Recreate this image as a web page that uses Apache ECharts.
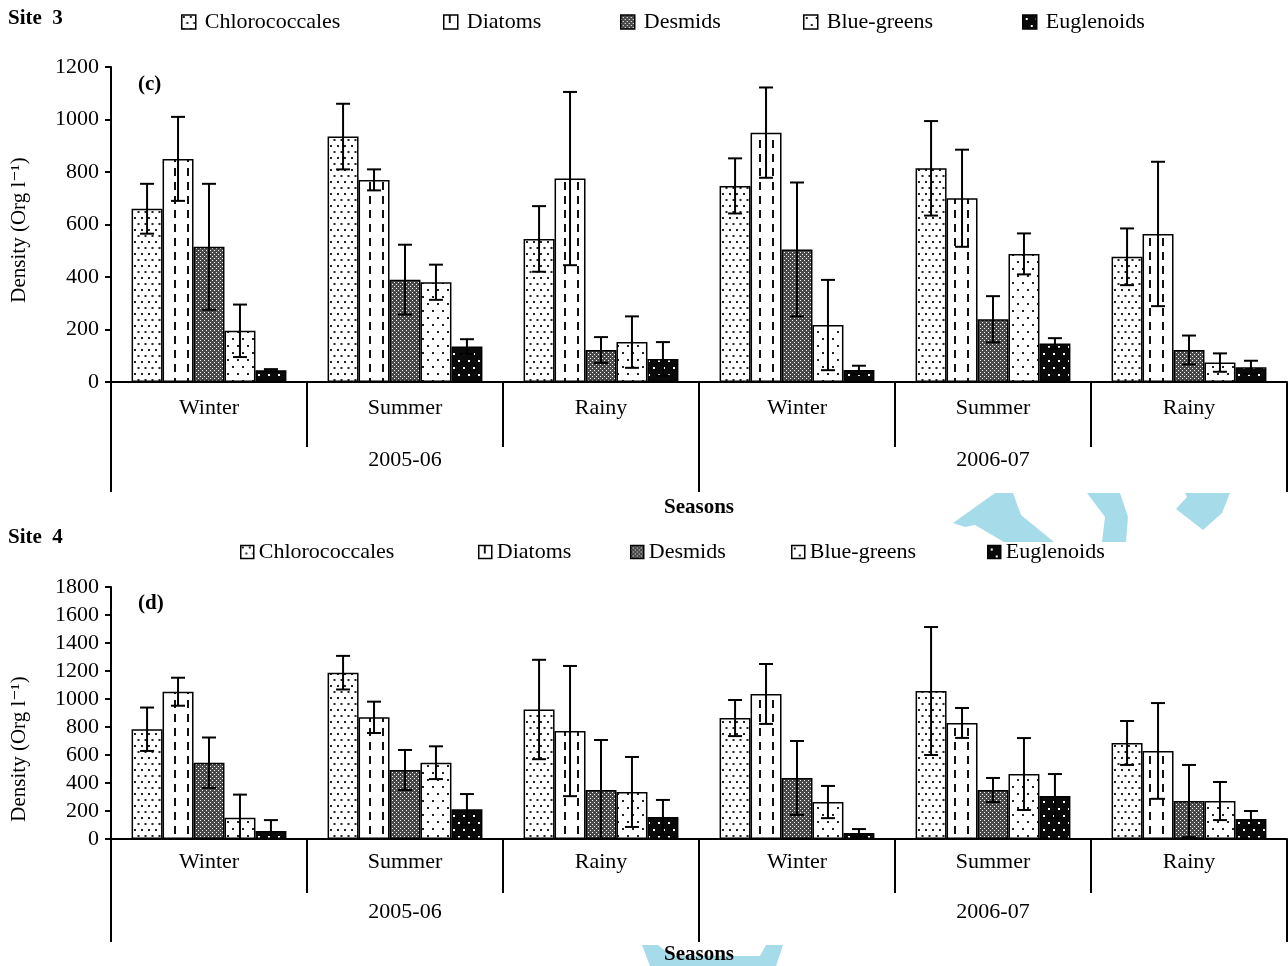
<!DOCTYPE html>
<html>
<head>
<meta charset="utf-8">
<title>Site 3 / Site 4 phytoplankton density</title>
<script src="https://cdn.jsdelivr.net/npm/echarts@6/dist/echarts.min.js"></script>
<style>
  html, body { margin: 0; padding: 0; background: #fff; }
  #chart { width: 1288px; height: 966px; }
</style>
</head>
<body>
<div id="chart"></div>
<script>
// categories
const seasons = ['Winter', 'Summer', 'Rainy', 'Winter', 'Summer', 'Rainy'];
const years = ['2005-06', '2006-07'];
const groups = ['Chlorococcales', 'Diatoms', 'Desmids', 'Blue-greens', 'Euglenoids'];
const site3Ticks = [0, 200, 400, 600, 800, 1000, 1200];
const site4Ticks = [0, 200, 400, 600, 800, 1000, 1200, 1400, 1600, 1800];

// Site 3 means and errors (per group, across the six seasons)
const s3Chloro = [660, 935, 545, 747, 814, 477];
const s3Diatoms = [850, 770, 775, 950, 700, 564];
const s3Desmids = [515, 390, 122, 505, 239, 122];
const s3Blue = [195, 380, 152, 217, 488, 74];
const s3Eugl = [45, 135, 88, 46, 147, 56];
const s3ChloroErr = [95, 125, 125, 105, 180, 108];
const s3DiatomsErr = [160, 40, 330, 172, 185, 275];
const s3DesmidsErr = [240, 133, 49, 255, 88, 55];
const s3BlueErr = [100, 67, 98, 172, 78, 35];
const s3EuglErr = [4, 28, 64, 16, 20, 25];

// Site 4
const s4Chloro = [784, 1188, 925, 864, 1057, 686];
const s4Diatoms = [1052, 869, 771, 1036, 829, 629];
const s4Desmids = [545, 493, 350, 436, 350, 271];
const s4Blue = [152, 545, 336, 264, 464, 271];
const s4Eugl = [57, 212, 157, 43, 307, 143];
const s4ChloroErr = [155, 120, 355, 129, 457, 157];
const s4DiatomsErr = [100, 112, 465, 214, 107, 342];
const s4DesmidsErr = [180, 143, 357, 264, 86, 258];
const s4BlueErr = [165, 117, 250, 115, 257, 136];
const s4EuglErr = [78, 109, 122, 28, 157, 57];

const site3 = [s3Chloro, s3Diatoms, s3Desmids, s3Blue, s3Eugl];
const site3Err = [s3ChloroErr, s3DiatomsErr, s3DesmidsErr, s3BlueErr, s3EuglErr];
const site4 = [s4Chloro, s4Diatoms, s4Desmids, s4Blue, s4Eugl];
const site4Err = [s4ChloroErr, s4DiatomsErr, s4DesmidsErr, s4BlueErr, s4EuglErr];

const FONT = '"Liberation Serif", "DejaVu Serif", serif';
const FS = 22;
const CAT_GAP = 0.21;

// fill patterns
function pattern(w, h, bg, draw) {
    const c = document.createElement('canvas');
    c.width = w; c.height = h;
    const ctx = c.getContext('2d');
    ctx.fillStyle = bg;
    ctx.fillRect(0, 0, w, h);
    draw(ctx);
    return { image: c, repeat: 'repeat' };
}
const fills = [
    pattern(7, 12, '#fff', ctx => { ctx.fillStyle = '#222'; ctx.fillRect(1, 1, 2, 2); ctx.fillRect(4.5, 7, 2, 2); }),
    pattern(13, 14, '#fff', ctx => { ctx.fillStyle = '#111'; ctx.fillRect(5, 0, 2, 8); }),
    pattern(8, 8, '#4a4a4a', ctx => {
        ctx.fillStyle = '#fff';
        for (let x = 0; x < 8; x += 2) for (let y = 0; y < 8; y += 2) if ((x + y) % 4 === 0) ctx.fillRect(x, y, 1, 1);
    }),
    pattern(10, 14, '#fff', ctx => { ctx.fillStyle = '#222'; ctx.fillRect(2, 2, 2, 2); ctx.fillRect(7, 9, 2, 2); }),
    pattern(10, 14, '#0a0a0a', ctx => { ctx.fillStyle = '#fff'; ctx.fillRect(3, 3, 2, 2); ctx.fillRect(8, 10, 2, 2); })
];

function errRender(params, api) {
    const ci = api.value(0), gi = api.value(1), m = api.value(2), e = api.value(3);
    const band = api.size([1, 0])[0];
    const bw = band * (1 - CAT_GAP) / groups.length;
    const x = api.coord([ci, m])[0] + (gi - (groups.length - 1) / 2) * bw;
    const yt = api.coord([ci, m + e])[1];
    const yb = api.coord([ci, Math.max(m - e, 0)])[1];
    const cap = 7;
    const st = { stroke: '#000', lineWidth: 2 };
    return {
        type: 'group',
        children: [
            { type: 'line', shape: { x1: x, y1: yt, x2: x, y2: yb }, style: st },
            { type: 'line', shape: { x1: x - cap, y1: yt, x2: x + cap, y2: yt }, style: st },
            { type: 'line', shape: { x1: x - cap, y1: yb, x2: x + cap, y2: yb }, style: st }
        ]
    };
}

function errData(means, errs) {
    const out = [];
    means.forEach((arr, gi) => arr.forEach((v, ci) => out.push([ci, gi, v, errs[gi][ci]])));
    return out;
}

const grids = [
    { left: 111, right: 1, top: 67, height: 315 },
    { left: 111, right: 1, top: 587, height: 252 }
];
const layout = [
    { tick: 65, longTick: 110, seasonMargin: 15, yearMargin: 67, nameGap: 115, ticks: site3Ticks, means: site3, errs: site3Err },
    { tick: 54, longTick: 103, seasonMargin: 12, yearMargin: 62, nameGap: 105, ticks: site4Ticks, means: site4, errs: site4Err }
];

const xAxis = [], yAxis = [], series = [];
layout.forEach((L, g) => {
    xAxis.push({
        type: 'category', gridIndex: g, data: seasons, position: 'bottom', z: 5,
        axisLine: { lineStyle: { color: '#000', width: 2 } },
        axisTick: { show: true, interval: 0, length: L.tick, lineStyle: { color: '#000', width: 2 } },
        axisLabel: { interval: 0, margin: L.seasonMargin, color: '#000', fontFamily: FONT, fontSize: FS }
    });
    xAxis.push({
        type: 'category', gridIndex: g, data: years, position: 'bottom', offset: 0, z: 5,
        axisLine: { show: false },
        axisTick: { show: true, interval: 0, length: L.longTick, lineStyle: { color: '#000', width: 2 } },
        axisLabel: { interval: 0, margin: L.yearMargin, color: '#000', fontFamily: FONT, fontSize: FS },
        name: 'Seasons', nameLocation: 'middle', nameGap: L.nameGap,
        nameTextStyle: { color: '#000', fontFamily: FONT, fontSize: 21, fontWeight: 'bold' }
    });
    const max = L.ticks[L.ticks.length - 1];
    yAxis.push({
        type: 'value', gridIndex: g, min: L.ticks[0], max: max, interval: L.ticks[1] - L.ticks[0], z: 5,
        splitLine: { show: false },
        axisLine: { show: true, lineStyle: { color: '#000', width: 2 } },
        axisTick: { show: true, length: 6, lineStyle: { color: '#000', width: 2 } },
        axisLabel: { margin: 12, color: '#000', fontFamily: FONT, fontSize: FS, formatter: v => String(v) }
    });
    groups.forEach((name, gi) => {
        series.push({
            name: name, type: 'bar', xAxisIndex: g * 2, yAxisIndex: g,
            data: L.means[gi], barGap: '0%', barCategoryGap: (CAT_GAP * 100) + '%',
            itemStyle: { color: fills[gi], borderColor: '#000', borderWidth: 1.5 },
            emphasis: { disabled: true }
        });
    });
    series.push({
        type: 'custom', xAxisIndex: g * 2, yAxisIndex: g, z: 10,
        renderItem: errRender, data: errData(L.means, L.errs),
        encode: { x: 0, y: 2 }, silent: true
    });
});

// legends, one per entry to keep the original spacing
const legendPos = [
    { top: 11, size: 14, textPad: 4, lefts: [181, 443, 620, 803, 1022] },
    { top: 541, size: 13, textPad: 0, lefts: [240, 478, 630, 791, 987] }
];
const legend = [];
legendPos.forEach(P => groups.forEach((name, gi) => legend.push({
    data: [name], left: P.lefts[gi], top: P.top, icon: 'rect', padding: 0,
    itemWidth: P.size, itemHeight: P.size, itemGap: 0, selectedMode: false,
    itemStyle: { borderColor: '#000', borderWidth: 1.5 },
    textStyle: { color: '#000', fontFamily: FONT, fontSize: FS, padding: [0, 0, 0, P.textPad] }
})));

const titleStyle = { color: '#000', fontFamily: FONT, fontSize: 21, fontWeight: 'bold' };
const title = [
    { text: 'Site  3', left: 3, top: 3, textStyle: titleStyle },
    { text: '(c)', left: 133, top: 69, textStyle: titleStyle },
    { text: 'Site  4', left: 3, top: 522, textStyle: titleStyle },
    { text: '(d)', left: 133, top: 588, textStyle: titleStyle }
];

const cyan = '#a6dcea';
const graphic = [
    { type: 'text', x: 19, y: 230, rotation: Math.PI / 2, z: 5,
      style: { text: 'Density (Org l\u207B\u00B9)', fill: '#000', font: '21px ' + FONT, textAlign: 'center', textVerticalAlign: 'middle' } },
    { type: 'text', x: 19, y: 749, rotation: Math.PI / 2, z: 5,
      style: { text: 'Density (Org l\u207B\u00B9)', fill: '#000', font: '21px ' + FONT, textAlign: 'center', textVerticalAlign: 'middle' } },
    { type: 'polygon', z: -1, shape: { points: [[953, 523], [995, 493], [1013, 493], [1021, 515], [1054, 542], [1004, 542], [975, 525], [965, 527]] }, style: { fill: cyan } },
    { type: 'polygon', z: -1, shape: { points: [[1087, 493], [1120, 493], [1128, 517], [1126, 542], [1102, 542], [1105, 517]] }, style: { fill: cyan } },
    { type: 'polygon', z: -1, shape: { points: [[1185, 493], [1230, 493], [1222, 513], [1203, 530], [1176, 509], [1187, 497]] }, style: { fill: cyan } },
    { type: 'polygon', z: -1, shape: { points: [[642, 945], [658, 945], [672, 956], [760, 956], [766, 945], [783, 945], [776, 966], [650, 966]] }, style: { fill: cyan } }
];

const chart = echarts.init(document.getElementById('chart'));
chart.setOption({
    animation: false,
    backgroundColor: '#fff',
    title: title,
    legend: legend,
    grid: grids,
    xAxis: xAxis,
    yAxis: yAxis,
    series: series,
    graphic: graphic
});
</script>
</body>
</html>
